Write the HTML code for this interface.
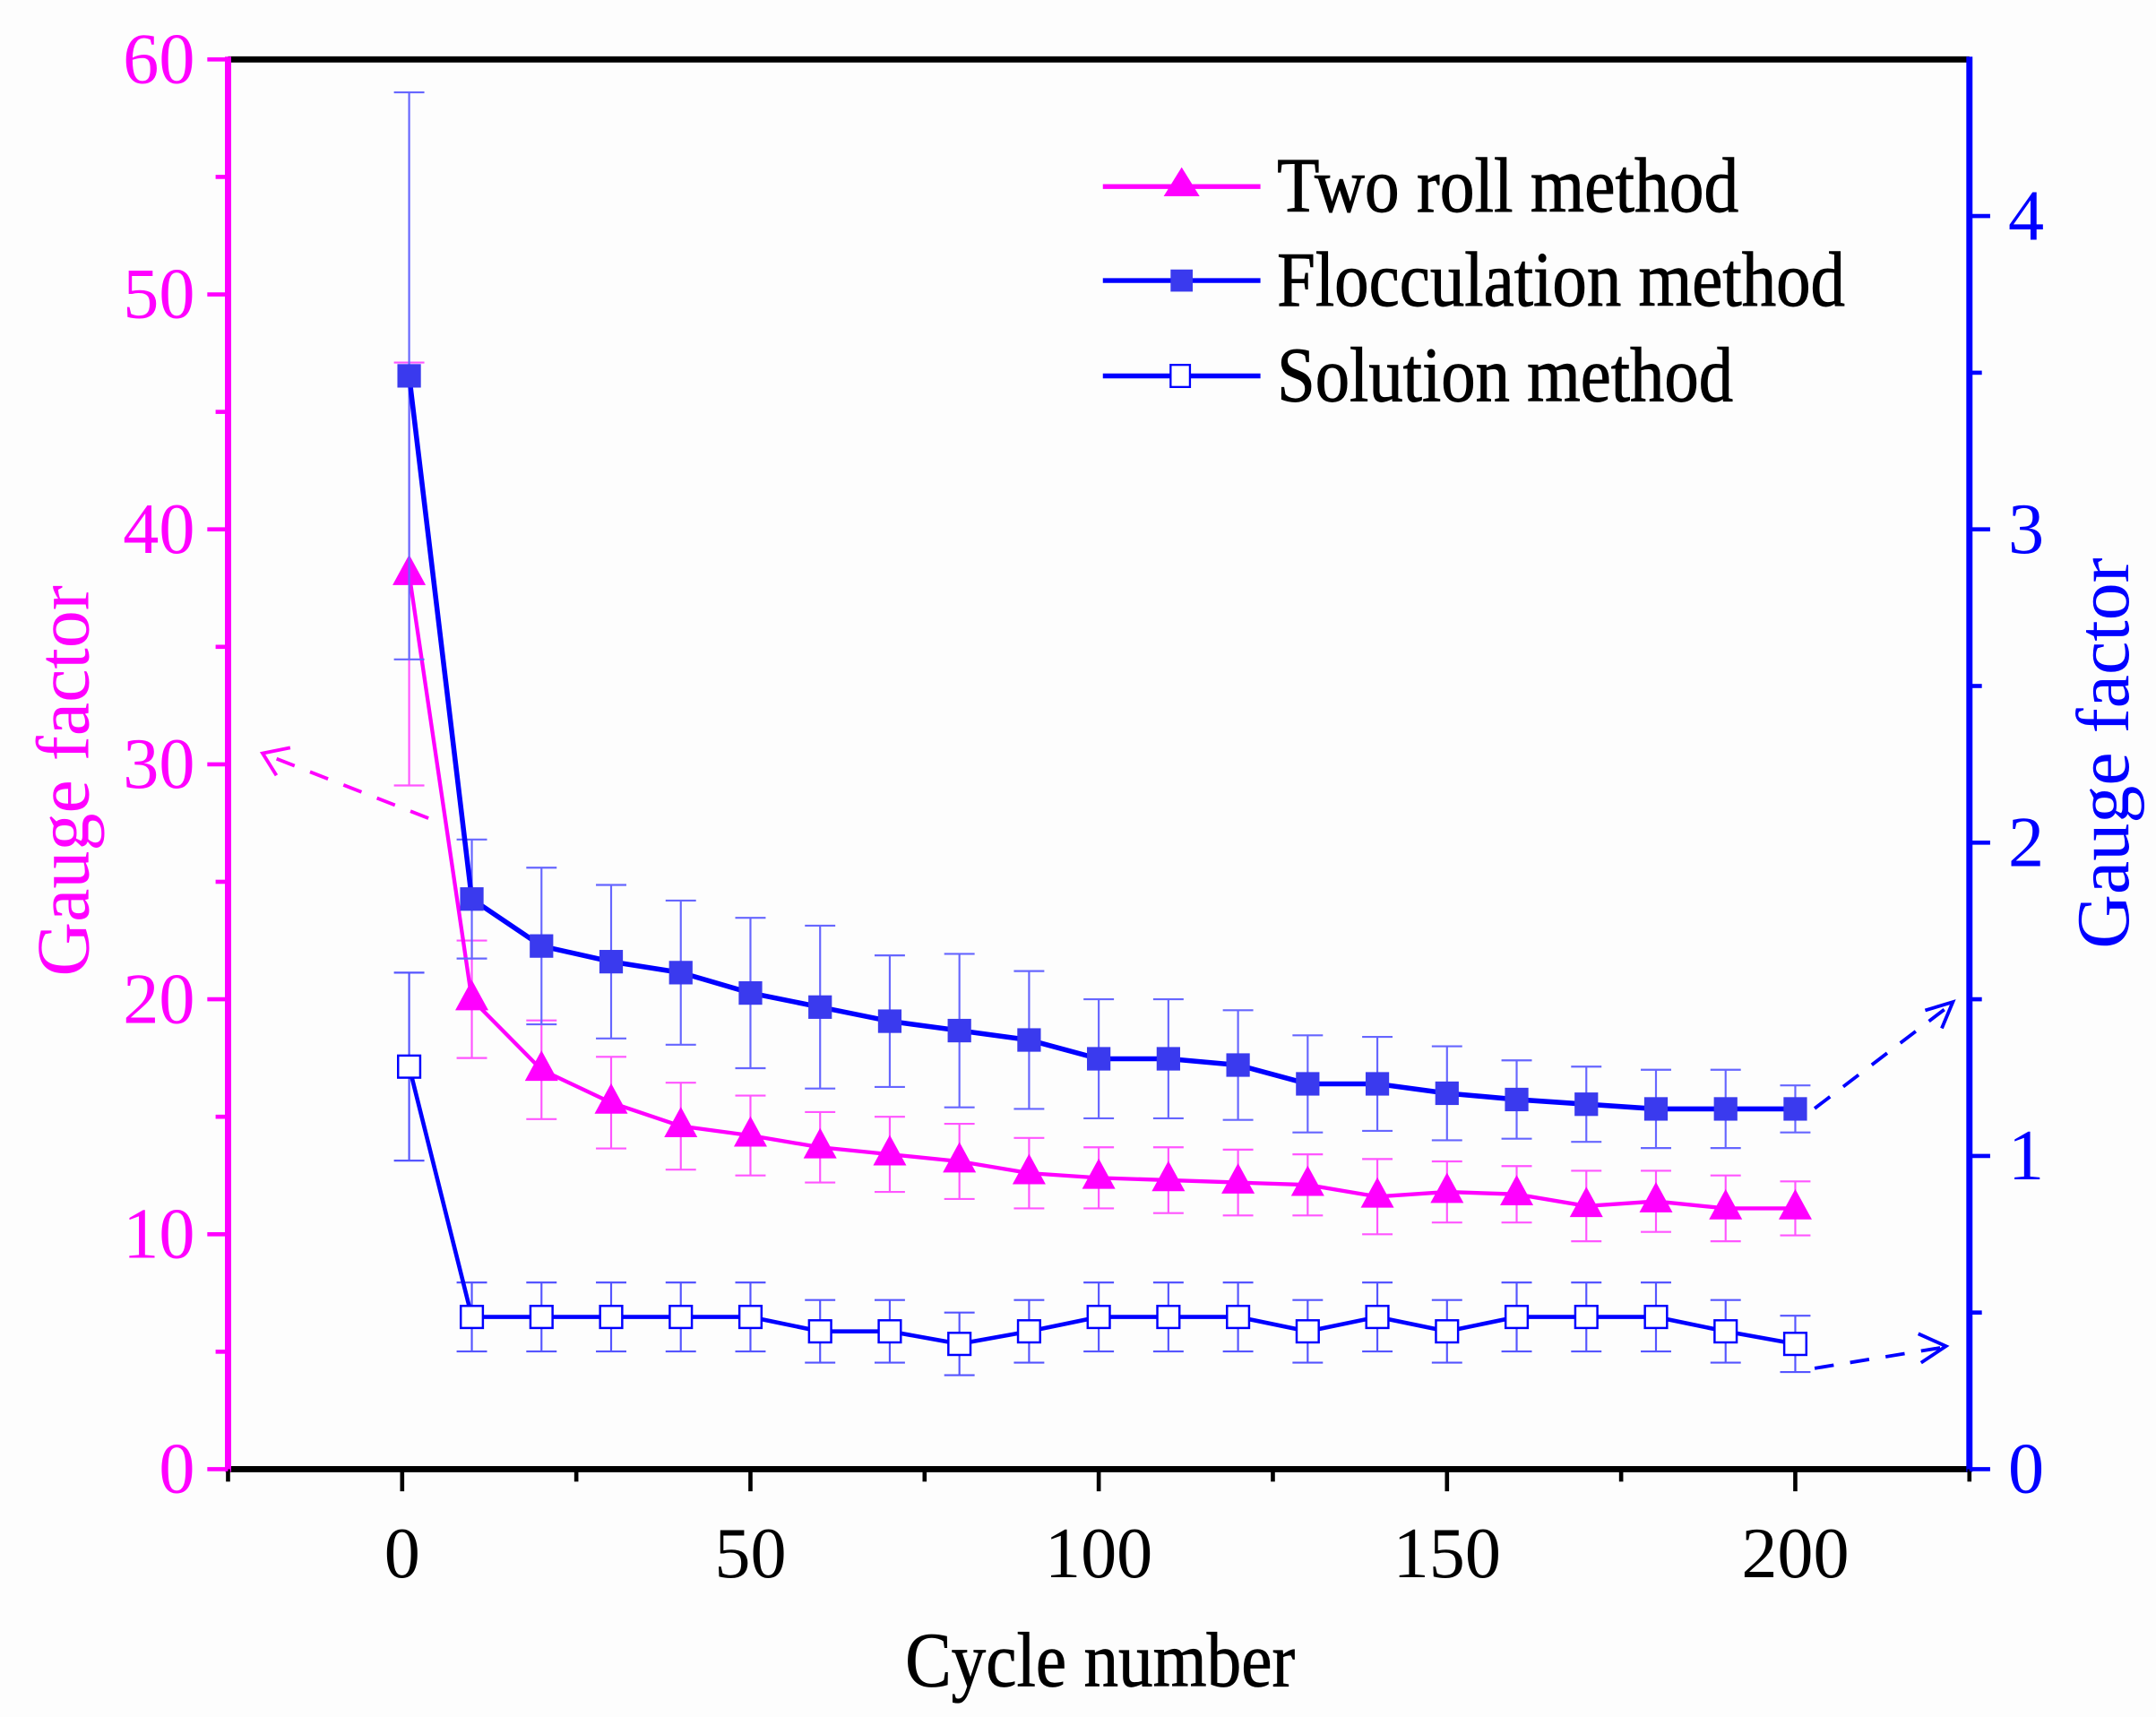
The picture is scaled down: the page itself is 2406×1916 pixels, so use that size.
<!DOCTYPE html>
<html><head><meta charset="utf-8"><style>
html,body{margin:0;padding:0;background:#fdfdfd;}
svg{display:block;font-family:"Liberation Serif",serif;}
</style></head><body>
<svg id="chart" width="2406" height="1916" viewBox="0 0 1560 1242.3" preserveAspectRatio="none" xmlns="http://www.w3.org/2000/svg">
<rect x="0" y="0" width="1560" height="1243" fill="#fdfdfd"/>
<g id="marks"></g>
<g id="axes"></g>
<g>
  <g>
    <line x1="798" y1="135" x2="912" y2="135" stroke="#ff00ff" stroke-width="3.5"/>
    <polygon points="855,121 842,142 868,142" fill="#ff00ff"/>
    <text x="924" y="153" font-size="56" stroke="#000" stroke-width="0.6" textLength="334" lengthAdjust="spacingAndGlyphs">Two roll method</text>
  </g>
  <g>
    <line x1="798" y1="203" x2="912" y2="203" stroke="#0000ff" stroke-width="3.5"/>
    <rect x="847" y="195" width="16" height="16" fill="#3a3aee"/>
    <text x="924" y="221" font-size="56" stroke="#000" stroke-width="0.6" textLength="411" lengthAdjust="spacingAndGlyphs">Flocculation method</text>
  </g>
  <g>
    <line x1="798" y1="272" x2="912" y2="272" stroke="#0000ff" stroke-width="3.5"/>
    <rect x="847" y="264" width="14" height="16" fill="#fff" stroke="#0000ff" stroke-width="1.5"/>
    <text x="924" y="290" font-size="56" stroke="#000" stroke-width="0.6" textLength="330" lengthAdjust="spacingAndGlyphs">Solution method</text>
  </g>
</g>
<g>
  <line x1="310" y1="592" x2="195" y2="547" stroke="#ff00ff" stroke-width="2.5" stroke-dasharray="14,12"/>
  <polyline points="210,541 190,545 200,561" fill="none" stroke="#ff00ff" stroke-width="2.5"/>
  <line x1="1313" y1="802" x2="1410" y2="728" stroke="#0000ff" stroke-width="2.5" stroke-dasharray="14,12"/>
  <polyline points="1393,731 1413,725 1405,744" fill="none" stroke="#0000ff" stroke-width="2.5"/>
  <line x1="1313" y1="990" x2="1405" y2="975" stroke="#0000ff" stroke-width="2.5" stroke-dasharray="14,12"/>
  <polyline points="1388,965 1408,974 1390,986" fill="none" stroke="#0000ff" stroke-width="2.5"/>
</g>
<text x="796" y="1220" font-size="56" stroke="#000" stroke-width="0.5" text-anchor="middle" textLength="282" lengthAdjust="spacingAndGlyphs">Cycle number</text>
<text transform="translate(64,565) rotate(-90)" font-size="54" fill="#ff00ff" text-anchor="middle" textLength="283" lengthAdjust="spacingAndGlyphs">Gauge factor</text>
<text transform="translate(1540,545) rotate(-90)" font-size="54" fill="#0000ff" text-anchor="middle" textLength="283" lengthAdjust="spacingAndGlyphs">Gauge factor</text>
</svg>
<script>
const cycles = [1,10,20,30,40,50,60,70,80,90,100,110,120,130,140,150,160,170,180,190,200];
const twoRoll = [38.1,20,17,15.6,14.6,14.2,13.7,13.4,13.1,12.6,12.4,12.3,12.2,12.1,11.6,11.8,11.7,11.2,11.4,11.1,11.1];
const twoRollErr = [9,2.5,2.1,1.95,1.85,1.7,1.5,1.6,1.6,1.5,1.3,1.4,1.4,1.3,1.6,1.3,1.2,1.5,1.3,1.4,1.15];
const floc = [3.49,1.82,1.67,1.62,1.585,1.52,1.475,1.43,1.40,1.37,1.31,1.31,1.29,1.23,1.23,1.20,1.18,1.165,1.15,1.15,1.15];
const flocErr = [0.905,0.19,0.25,0.245,0.23,0.24,0.26,0.21,0.245,0.22,0.19,0.19,0.175,0.155,0.15,0.15,0.125,0.12,0.125,0.125,0.075];
const solution = [1.285,0.486,0.486,0.486,0.486,0.486,0.44,0.44,0.40,0.44,0.486,0.486,0.486,0.44,0.486,0.44,0.486,0.486,0.486,0.44,0.40];
const solutionErr = [0.30,0.11,0.11,0.11,0.11,0.11,0.10,0.10,0.10,0.10,0.11,0.11,0.11,0.10,0.11,0.10,0.11,0.11,0.11,0.10,0.09];
const xTicks = [0,50,100,150,200];
const xMinorTicks = [-25,25,75,125,175,225];
const leftTicks = [0,10,20,30,40,50,60];
const leftMinorTicks = [5,15,25,35,45,55];
const rightTicks = [0,1,2,3,4];
const rightMinorTicks = [0.5,1.5,2.5,3.5];

const NS = "http://www.w3.org/2000/svg";
const X0 = 165, X1 = 1425, Y0 = 1063, Y1 = 43;
const xs = v => X0 + (v + 25) / 250 * (X1 - X0);
const yl = v => Y0 - v / 60 * (Y0 - Y1);
const yr = v => Y0 - v / 4.5 * (Y0 - Y1);
const marks = document.getElementById('marks');
const axes = document.getElementById('axes');
function mk(tag, attrs, parent) {
  const e = document.createElementNS(NS, tag);
  for (const k in attrs) e.setAttribute(k, attrs[k]);
  parent.appendChild(e);
  return e;
}
function series(vals, errs, ys, color, errColor, lw, name, marker) {
  const g = mk('g', {}, marks);
  
  
  cycles.forEach((c, i) => {
    const x = xs(c), a = ys(vals[i] + errs[i]), b = ys(vals[i] - errs[i]);
    const eb = mk('g', {stroke: errColor, 'stroke-width': 1.4}, g);
    
    
    mk('line', {x1: x, y1: a, x2: x, y2: b}, eb);
    mk('line', {x1: x - 11, y1: a, x2: x + 11, y2: a}, eb);
    mk('line', {x1: x - 11, y1: b, x2: x + 11, y2: b}, eb);
  });
  const pts = cycles.map((c, i) => xs(c) + ',' + ys(vals[i])).join(' ');
  const pl = mk('polyline', {points: pts, fill: 'none', stroke: color, 'stroke-width': lw}, g);
  
  
  cycles.forEach((c, i) => {
    const x = xs(c), y = ys(vals[i]);
    let m;
    if (marker === 'tri') m = mk('polygon', {points: `${x},${y-14} ${x-12},${y+8} ${x+12},${y+8}`, fill: '#ff00ff'}, g);
    else if (marker === 'sq') m = mk('rect', {x: x-8.5, y: y-8.5, width: 17, height: 17, fill: '#3a3aee'}, g);
    else m = mk('rect', {x: x-8, y: y-8, width: 16, height: 16, fill: '#fff', stroke: '#0000ff', 'stroke-width': 1.6}, g);
    
    
  });
}
series(solution, solutionErr, yr, '#0000ff', '#5555ff', 3, 'solution-series', 'open');
series(twoRoll, twoRollErr, yl, '#ff00ff', '#ff55ff', 2.8, 'two-roll-series', 'tri');
series(floc, flocErr, yr, '#0000ff', '#6666ff', 3.6, 'flocculation-series', 'sq');

let e;
e = mk('line', {x1: X0, y1: Y1, x2: X1, y2: Y1, stroke: '#000', 'stroke-width': 4.5}, axes);
 
e = mk('line', {x1: X0, y1: Y0, x2: X1, y2: Y0, stroke: '#000', 'stroke-width': 4.5}, axes);
 
e = mk('line', {x1: X0, y1: Y1 - 2, x2: X0, y2: Y0 + 2, stroke: '#ff00ff', 'stroke-width': 4.5}, axes);
 
e = mk('line', {x1: X1, y1: Y1 - 2, x2: X1, y2: Y0 + 2, stroke: '#0000ff', 'stroke-width': 4.5}, axes);
 

xTicks.forEach(v => {
  mk('line', {x1: xs(v), y1: Y0, x2: xs(v), y2: Y0 + 16, stroke: '#000', 'stroke-width': 3}, axes);
  const t = mk('text', {x: xs(v), y: Y0 + 78, 'font-size': 52, 'text-anchor': 'middle'}, axes);
  t.textContent = v;
  
  
});
xMinorTicks.forEach(v => mk('line', {x1: xs(v), y1: Y0, x2: xs(v), y2: Y0 + 9, stroke: '#000', 'stroke-width': 3}, axes));
leftTicks.forEach(v => {
  mk('line', {x1: X0, y1: yl(v), x2: X0 - 15, y2: yl(v), stroke: '#ff00ff', 'stroke-width': 3}, axes);
  const t = mk('text', {x: X0 - 24, y: yl(v) + 17, 'font-size': 52, 'text-anchor': 'end', fill: '#ff00ff'}, axes);
  t.textContent = v;
  
  
});
leftMinorTicks.forEach(v => mk('line', {x1: X0, y1: yl(v), x2: X0 - 9, y2: yl(v), stroke: '#ff00ff', 'stroke-width': 3}, axes));
rightTicks.forEach(v => {
  mk('line', {x1: X1, y1: yr(v), x2: X1 + 15, y2: yr(v), stroke: '#0000ff', 'stroke-width': 3}, axes);
  const t = mk('text', {x: X1 + 28, y: yr(v) + 17, 'font-size': 52, fill: '#0000ff'}, axes);
  t.textContent = v;
  
  
});
rightMinorTicks.forEach(v => mk('line', {x1: X1, y1: yr(v), x2: X1 + 9, y2: yr(v), stroke: '#0000ff', 'stroke-width': 3}, axes));
</script>
</body></html>
